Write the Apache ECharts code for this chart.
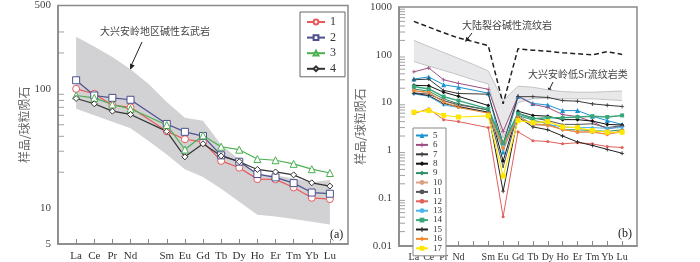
<!DOCTYPE html>
<html>
<head>
<meta charset="utf-8">
<script src="https://cdn.jsdelivr.net/npm/echarts@6/dist/echarts.min.js"></script>
<style>
html,body{margin:0;padding:0;background:#fff}
#chart{width:700px;height:262px}
</style>
</head>
<body>
<div id="chart"></div>
<script>
// 稀土元素 (Pm 位置留空)
const elements = ['La','Ce','Pr','Nd','Pm','Sm','Eu','Gd','Tb','Dy','Ho','Er','Tm','Yb','Lu']
const axisCats = ['L0'].concat(elements, ['R0'])

// 图(a) 样品 1-4, La..Lu (无 Pm)
const a1 = [100, 91, 73, 70, 44, 37.8, 35.9, 24.9, 21.8, 17.5, 17.4, 14.9, 12.2, 11.9]
const a2 = [118, 88, 84, 81, 50.8, 43.6, 40.2, 27.7, 24.5, 19.3, 18.1, 16.2, 13.5, 13.2]
const a3 = [88, 84, 74, 68, 49.8, 31, 40.7, 32.7, 30.9, 25.8, 25.2, 23.5, 21.2, 19.7]
const a4 = [83, 75, 65, 61, 44, 26.9, 34.6, 27.4, 24.5, 21.1, 20.1, 19.0, 16.3, 15.3]
// 图(a) 碱性玄武岩范围 (含 Pm)
const bandAUp = [274, 227, 185, 146, 110, 77.6, 57.3, 54, 34, 25.6, 19.3, 18.8, 17.8, 16.5, 17.2]
const bandALow = [68, 60, 53, 46.8, 36.6, 28.2, 21.2, 18.2, 14.5, 11.3, 8.8, 8.5, 8.1, 7.7, 7.3]

// 图(b) 样品 5-17
const b5 = [31, 34.5, 23.6, 21, 15.8, 0.93, 13.6, 9.6, 8.9, 6.8, 6.8, 5.2, 4.2, 3.5]
const b6 = [44, 53, 30, 25.3, 19, 2.5, 13.5, 9.2, 7.9, 5.6, 5.1, 4.0, 2.8, 3.2]
const b7 = [30, 31, 18, 15.5, 15, 1.4, 13.3, 13.3, 12.8, 11, 10.7, 9.4, 8.8, 8.3]
const b8 = [23, 22.5, 16.5, 13.5, 8.7, 0.6, 6.6, 5.4, 5.2, 4.4, 4.4, 4.1, 3.5, 3.4]
const b9 = [19.3, 17.3, 12, 9.4, 7.0, 1.3, 5.4, 4.3, 3.6, 2.7, 2.7, 2.6, 2.5, 2.7]
const b10 = [18, 15.5, 11, 8.5, 6.2, 1.2, 5.2, 3.4, 3.3, 2.8, 2.4, 2.4, 2.2, 2.4]
const b11 = [16, 15, 11, 9, 7, 0.45, 6, 4.8, 4.2, 3.5, 3.5, 3.6, 3.0, 3.3]
const b12 = [5.9, 7.4, 4.4, 4.0, 3.0, 0.041, 2.45, 1.6, 1.53, 1.37, 1.45, 1.37, 1.2, 1.15]
const b13 = [15.2, 13.6, 8.9, 7.9, 6.3, 1.0, 5.4, 3.5, 3.5, 3.1, 3.0, 3.0, 2.9, 3.0]
const b14 = [21.8, 19.3, 13.3, 11, 7.4, 1.41, 5.9, 4.6, 4.8, 4.8, 5.0, 5.2, 5.0, 5.4]
const b15 = [15.7, 14, 9.6, 8.2, 6.3, 0.14, 5.0, 3.1, 2.7, 2.0, 1.5, 1.27, 1.05, 0.87]
const b16 = [17.7, 16.5, 10.2, 7.9, 6.0, 1.1, 5.0, 3.6, 3.4, 2.7, 2.45, 2.45, 2.15, 2.6]
const b17 = [6.3, 6.8, 5.4, 5.0, 5.3, 0.29, 4.2, 3.8, 4.0, 3.1, 3.0, 2.6, 2.4, 2.4]
// 大陆裂谷碱性流纹岩 (含 Pm)
const riftLine = [500, 380, 290, 225, 189, 156, 9.4, 134, 125, 119, 110, 105, 100, 116, 102]
// 大兴安岭低Sr流纹岩类范围 (含 Pm)
const bandBUp = [200, 149, 112, 84, 63, 46, 11, 22, 21, 18.5, 17, 16.5, 16.5, 17, 17.5]
const bandBLow = [72, 58, 47, 38, 30, 24.5, 1.8, 10, 12, 12.5, 12, 12, 12, 11.5, 11]

// y 轴次刻度
const minorA = [200, 300, 20, 30, 40, 50, 60, 70, 80, 90]
const minorB = [0.02,0.03,0.04,0.05,0.06,0.07,0.08,0.09, 0.2,0.3,0.4,0.5,0.6,0.7,0.8,0.9,
  2,3,4,5,6,7,8,9, 20,30,40,50,60,70,80,90, 200,300,400,500,600,700,800,900]

// 14 个元素值 -> 轴位置 (Pm 与两端为空)
function put14(v){ return [null].concat(v.slice(0,4), [null], v.slice(4), [null]) }
function put15(v){ return [null].concat(v, [null]) }
function diff(u,l){ return u.map((x,i)=>x-l[i]) }

const serif = 'Liberation Serif'
const cjk = 'Noto Sans CJK SC'
const PLUS = 'path://M4,0H6V4H10V6H6V10H4V6H0V4H4Z'

function xAxis(idx, margin, fs){
  return {
    type:'category', gridIndex:idx, data:axisCats, boundaryGap:false,
    axisLine:{lineStyle:{color:'#888',width:1.5}},
    axisTick:{inside:true,length:5,lineStyle:{color:'#888'},interval:(i)=>i>0&&i<axisCats.length-1},
    axisLabel:{interval:0,margin:margin,color:'#333',fontFamily:serif,fontSize:fs,
      formatter:(v)=>(v==='Pm'||v==='L0'||v==='R0')?'':v},
    splitLine:{show:false}
  }
}
function yAxis(idx, min, max, gap){
  return {
    type:'log', gridIndex:idx, min:min, max:max, logBase:10,
    name:'样品/球粒陨石', nameLocation:'middle', nameGap:gap, nameRotate:90,
    nameTextStyle:{fontFamily:cjk,fontSize:12,color:'#666'},
    axisLine:{show:true,lineStyle:{color:'#888',width:1.5}},
    axisTick:{inside:true,length:6,lineStyle:{color:'#888'}},
    axisLabel:{color:'#444',fontFamily:serif,fontSize:11,margin:7,
      formatter:(v)=>String(parseFloat(Number(v).toPrecision(6)))},
    splitLine:{show:false}
  }
}
// 空心符号: 白色填充 + 细边框
function sample(name, vals, xi, color, symbol, size, width, hollow){
  return {
    name:name, type:'line', xAxisIndex:xi, yAxisIndex:xi, data:put14(vals),
    connectNulls:true, symbol:symbol, symbolSize:size,
    lineStyle:{color:color,width:width},
    itemStyle:hollow ? {color:'#fff',borderColor:color,borderWidth:1} : {color:color,borderWidth:0},
    z:5
  }
}
function minorTicks(xi, vals){
  return {
    type:'scatter', xAxisIndex:xi, yAxisIndex:xi, silent:true,
    data:vals.map(v=>[0,v]), symbol:'rect', symbolSize:[6,1], symbolOffset:[3,0],
    itemStyle:{color:'#888'}, z:1
  }
}

const chart = echarts.init(document.getElementById('chart'))
const option = {
  animation:false,
  backgroundColor:'#fff',
  grid:[
    {left:58,top:5,width:290,height:243,show:true,borderColor:'#8a8a8a',borderWidth:1.5},
    {left:399,top:7,width:238,height:242,show:true,borderColor:'#8a8a8a',borderWidth:1.5}
  ],
  xAxis:[xAxis(0,7,11), xAxis(1,6,10)],
  yAxis:[yAxis(0,5,500,24), yAxis(1,0.01,1000,20)],
  legend:[
    {
      data:['1','2','3','4'], orient:'vertical', left:300, top:12,
      padding:[4,9,2,6], itemWidth:18, itemHeight:6, itemGap:3.6,
      borderColor:'#666', borderWidth:1, selectedMode:false,
      textStyle:{fontFamily:serif,fontSize:12,lineHeight:12,color:'#333'}
    },
    {
      data:['5','6','7','8','9','10','11','12','13','14','15','16','17'],
      orient:'vertical', left:413, top:128,
      padding:[3,4,3,2], itemWidth:12, itemHeight:6, itemGap:0.4,
      borderColor:'#888', borderWidth:1, selectedMode:false, backgroundColor:'#fff',
      textStyle:{fontFamily:serif,fontSize:9,lineHeight:8,color:'#333'}
    }
  ],
  graphic:[
    {type:'text',left:100,top:26,style:{text:'大兴安岭地区碱性玄武岩',font:'10px "Noto Sans CJK SC"',fill:'#444'}},
    {type:'line',shape:{x1:142,y1:42,x2:131,y2:66},style:{stroke:'#222',lineWidth:1}},
    {type:'polygon',shape:{points:[[130,70],[134.7,65.5],[130.1,63.5]]},style:{fill:'#222'}},
    {type:'text',left:330,top:229,style:{text:'(a)',font:'12px "Liberation Serif"',fill:'#222'}},

    {type:'text',left:462,top:20,style:{text:'大陆裂谷碱性流纹岩',font:'10px "Noto Sans CJK SC"',fill:'#444'}},
    {type:'line',shape:{x1:472,y1:33,x2:467,y2:39.5},style:{stroke:'#222',lineWidth:1}},
    {type:'polygon',shape:{points:[[465,42],[469.8,39.4],[466.4,36.7]]},style:{fill:'#222'}},
    {type:'text',left:528,top:69,style:{text:'大兴安岭低Sr流纹岩类',font:'10px "Noto Sans CJK SC"',fill:'#444'}},
    {type:'line',shape:{x1:553,y1:82,x2:549.5,y2:89},style:{stroke:'#222',lineWidth:1}},
    {type:'polygon',shape:{points:[[548,93],[551.7,89],[547.9,87.6]]},style:{fill:'#222'}},
    {type:'text',left:618,top:228,style:{text:'(b)',font:'12px "Liberation Serif"',fill:'#222'}}
  ],
  series:[
    // (a) 范围
    {type:'line',xAxisIndex:0,yAxisIndex:0,stack:'bandA',data:put15(bandALow),symbol:'none',
      lineStyle:{opacity:0},silent:true,z:0},
    {type:'line',xAxisIndex:0,yAxisIndex:0,stack:'bandA',data:put15(diff(bandAUp,bandALow)),symbol:'none',
      lineStyle:{opacity:0},areaStyle:{color:'#d2d2d4',opacity:1},silent:true,z:0},
    minorTicks(0, minorA),
    sample('1', a1, 0, '#e8595c', 'circle', 7, 1.2, true),
    sample('2', a2, 0, '#4d4f8f', 'rect', 7, 1.2, true),
    sample('3', a3, 0, '#4cb051', 'triangle', 7, 1.2, true),
    sample('4', a4, 0, '#333333', 'diamond', 6, 1.2, true),

    // (b) 范围
    {type:'line',xAxisIndex:1,yAxisIndex:1,stack:'bandB',data:put15(bandBLow),symbol:'none',
      lineStyle:{color:'#b8b8b8',width:0.8},silent:true,z:0},
    {type:'line',xAxisIndex:1,yAxisIndex:1,stack:'bandB',data:put15(diff(bandBUp,bandBLow)),symbol:'none',
      lineStyle:{color:'#b8b8b8',width:0.8},areaStyle:{color:'#e8e8ea',opacity:1},silent:true,z:0},
    {type:'line',xAxisIndex:1,yAxisIndex:1,data:put15(riftLine),symbol:'none',silent:true,
      lineStyle:{color:'#222',width:1.5,type:[5,3]},z:3},
    minorTicks(1, minorB),
    sample('5', b5, 1, '#1b93d0', 'triangle', 5, 1),
    sample('6', b6, 1, '#9c4f80', PLUS, 4, 1),
    sample('7', b7, 1, '#3a3a3a', PLUS, 4, 1),
    sample('8', b8, 1, '#111111', 'diamond', 4, 1),
    sample('9', b9, 1, '#2d8e68', 'diamond', 4, 1),
    sample('10', b10, 1, '#dba081', 'circle', 4, 1),
    sample('11', b11, 1, '#555555', 'circle', 2, 1),
    sample('12', b12, 1, '#e0605a', 'circle', 3, 1),
    sample('13', b13, 1, '#4ab4ea', 'circle', 3, 1),
    sample('14', b14, 1, '#3aa77a', 'rect', 4, 1.5),
    sample('15', b15, 1, '#222222', PLUS, 4, 1),
    sample('16', b16, 1, '#f28a30', 'diamond', 4, 1),
    sample('17', b17, 1, '#ffe600', 'rect', 5, 1.2)
  ]
}
chart.setOption(option)
</script>
</body>
</html>
